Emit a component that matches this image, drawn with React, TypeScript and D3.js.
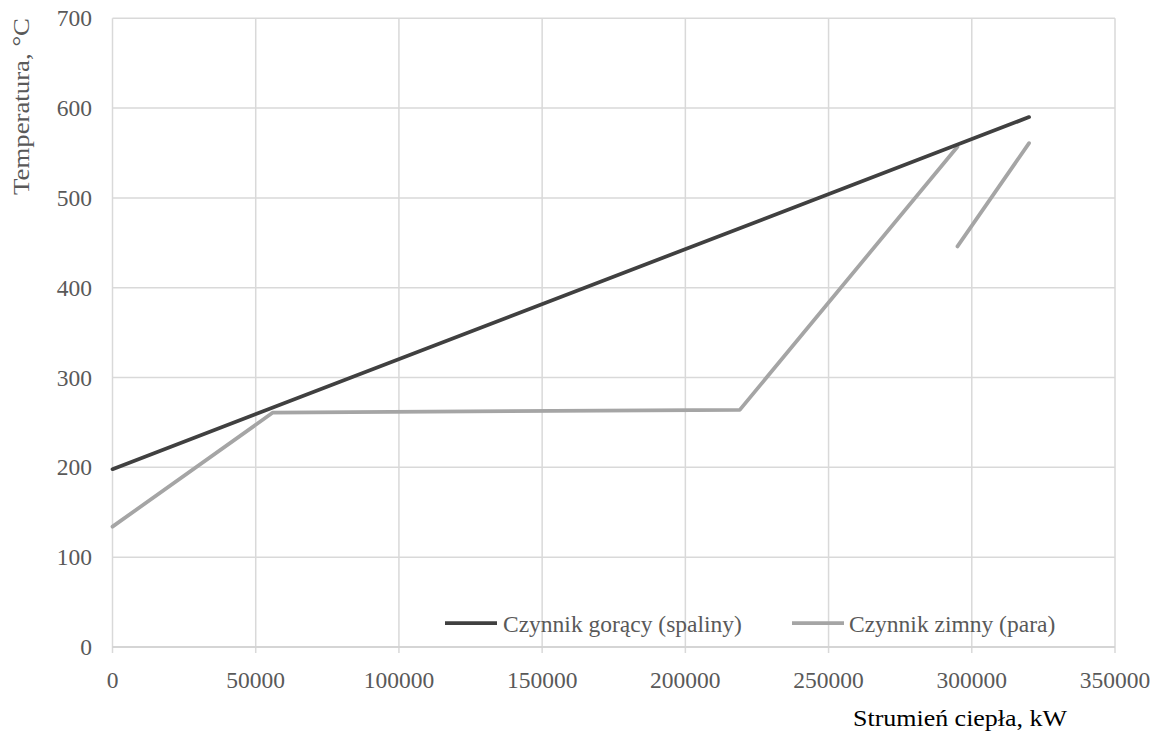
import React from "react";
import * as d3 from "d3";

const hotX = [0, 320000];
const hotY = [198, 590];
const coldX1 = [0, 56000, 219000, 295000];
const coldY1 = [134, 261, 264, 557];
const coldX2 = [295000, 320000];
const coldY2 = [446, 561];
const xTicks = [0, 50000, 100000, 150000, 200000, 250000, 300000, 350000];
const yTicks = [0, 100, 200, 300, 400, 500, 600, 700];
const legendLabels = ["Czynnik gorący (spaliny)", "Czynnik zimny (para)"];

const W = 1157, H = 738;
const L = 112.5, R = 1115, T = 18.3, B = 647;
const FONT = "Liberation Serif, DejaVu Serif, serif";
const FS = 23.5;

export default function App() {
  const x = d3.scaleLinear().domain([0, 350000]).range([L, R]);
  const y = d3.scaleLinear().domain([0, 700]).range([B, T]);
  const line = d3.line<[number, number]>().x(d => x(d[0])).y(d => y(d[1]));
  const pts = (xs: number[], ys: number[]) => xs.map((v, i) => [v, ys[i]] as [number, number]);
  const ts = { fontFamily: FONT, fontSize: FS } as React.CSSProperties;
  return (
    <svg width={W} height={H} style={{ position: "absolute", left: 0, top: 0, background: "#fff" }}>
      {xTicks.map(t => (
        <line key={"gx" + t} x1={x(t)} x2={x(t)} y1={T} y2={B + 6} stroke="#d9d9d9" strokeWidth={1.5} />
      ))}
      {yTicks.map(t => (
        <line key={"gy" + t} x1={L} x2={R} y1={y(t)} y2={y(t)} stroke="#d9d9d9" strokeWidth={1.5} />
      ))}
      <line x1={L} x2={R} y1={B} y2={B} stroke="#d0d0d0" strokeWidth={1.5} />
      {yTicks.map(t => (
        <text key={"ty" + t} x={92} y={y(t)} dy="0.34em" textAnchor="end" style={ts} fill="#595959">{t}</text>
      ))}
      {xTicks.map(t => (
        <text key={"tx" + t} x={x(t)} y={680} dy="0.34em" textAnchor="middle" style={ts} fill="#595959">{t}</text>
      ))}
      <path d={line(pts(coldX1, coldY1)) || ""} fill="none" stroke="#a5a5a5" strokeWidth={3.75} strokeLinejoin="round" strokeLinecap="round" />
      <path d={line(pts(coldX2, coldY2)) || ""} fill="none" stroke="#a5a5a5" strokeWidth={3.75} strokeLinecap="round" />
      <path d={line(pts(hotX, hotY)) || ""} fill="none" stroke="#404040" strokeWidth={3.75} strokeLinecap="round" />
      <line x1={445} x2={497} y1={623} y2={623} stroke="#404040" strokeWidth={3.75} />
      <text x={503} y={632} style={ts} fill="#595959">{legendLabels[0]}</text>
      <line x1={792} x2={844} y1={623} y2={623} stroke="#a5a5a5" strokeWidth={3.75} />
      <text x={849} y={632} style={ts} fill="#595959">{legendLabels[1]}</text>
      <text transform={`translate(29,106.5) rotate(-90)`} textAnchor="middle" style={ts} textLength={177} lengthAdjust="spacingAndGlyphs" fill="#595959">Temperatura, °C</text>
      <text x={853} y={726} style={ts} textLength={214} lengthAdjust="spacingAndGlyphs" fill="#000">Strumień ciepła, kW</text>
    </svg>
  );
}
